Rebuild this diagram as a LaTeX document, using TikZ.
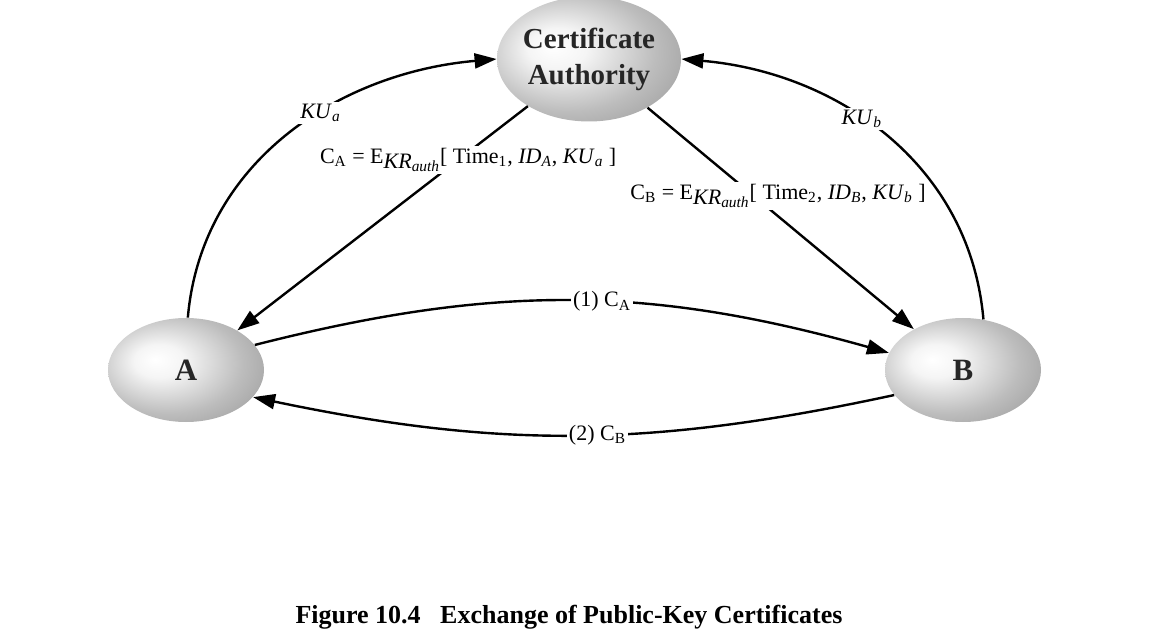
\documentclass[tikz,border=0pt]{standalone}
\usepackage{fontspec}
\setmainfont{Liberation Serif}
\usetikzlibrary{shapes.geometric}
\usetikzlibrary{arrows.meta}

\pgfdeclareradialshading{orb}{\pgfpoint{-10bp}{5bp}}{color(0bp)=(white); color(8bp)=(white!96!black); color(24bp)=(black!26); color(36bp)=(black!38); color(46bp)=(black!50); color(60bp)=(black!56)}

\tikzset{
  party/.style={ellipse, shading=orb, inner xsep=-10pt, inner ysep=0pt, align=center,
    text=black!85, font=\fontsize{15.5}{18}\selectfont\bfseries},
  msg/.style={-{Triangle[length=11pt,width=7.5pt]}, line width=1.2pt},
  lbl/.style={fill=white, inner sep=1pt, font=\fontsize{11}{13}\selectfont},
}

\begin{document}
\begin{tikzpicture}[x=0.5pt, y=0.5pt]
            \useasboundingbox (0,0) rectangle (1152,633);

            % Parties
            \node[party, minimum width=92pt, minimum height=62.5pt, font=\fontsize{14.5}{18}\selectfont\bfseries] (CA) at (589,574) {Certificate\\Authority};
            \node[party, minimum width=78pt, minimum height=52pt] (A) at (186,263) {A};
            \node[party, minimum width=78pt, minimum height=52pt] (B) at (963,263) {B};

            % Certificates issued by the authority
            \draw[msg] (CA) -- node[lbl, pos=0.24, xshift=5pt] {C\textsubscript{A} = E\raisebox{-0.5ex}{\textit{KR}\textsubscript{\textit{auth}}}[ Time\textsubscript{1}, \textit{ID}\textsubscript{\textit{A}}, \textit{KU}\textsubscript{\textit{a}} ]} (A);
            \draw[msg] (CA) -- node[lbl, pos=0.40, xshift=12pt] {C\textsubscript{B} = E\raisebox{-0.5ex}{\textit{KR}\textsubscript{\textit{auth}}}[ Time\textsubscript{2}, \textit{ID}\textsubscript{\textit{B}}, \textit{KU}\textsubscript{\textit{b}} ]} (B);

            % Public keys sent to the authority
            \draw[msg] (A.88) to[out=85, in=185] node[lbl, pos=0.59] {\textit{KU}\textsubscript{\textit{a}}} (CA.west);
            \draw[msg] (B.68) to[out=95, in=-5] node[lbl, pos=0.57] {\textit{KU}\textsubscript{\textit{b}}} (CA.east);

            % Exchange between A and B
            \draw[msg] (A.20) to[bend left=15] node[lbl, pos=0.55] {(1) C\textsubscript{A}} (B.167);
            \draw[msg] (B.200) to[bend left=12] node[lbl, pos=0.46] {(2) C\textsubscript{B}} (A.-22);

            % Caption
            \node[font=\fontsize{13}{15}\selectfont\bfseries] (caption) at (569,16) {Figure 10.4\ \ \ Exchange of Public-Key Certificates};

        \end{tikzpicture}
\end{document}
